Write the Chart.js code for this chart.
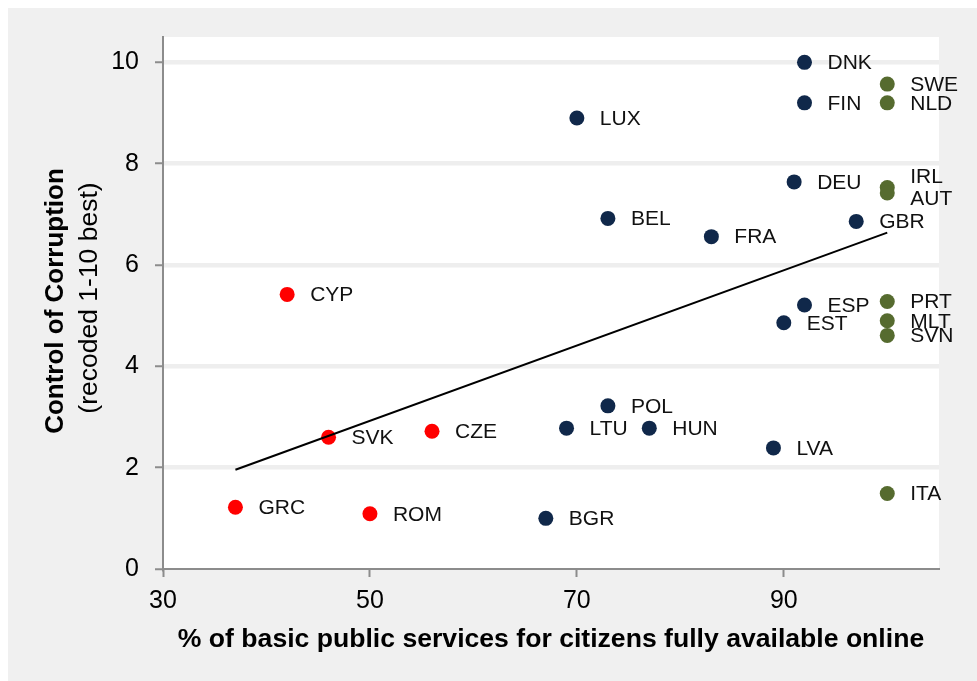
<!DOCTYPE html>
<html><head><meta charset="utf-8">
<script src="https://cdn.jsdelivr.net/npm/chart.js@4.4.1/dist/chart.umd.min.js"></script>
<style>html,body{margin:0;padding:0;background:#fff;} #wrap{width:977px;height:681px;position:relative;}</style>
</head><body><div id="wrap"><canvas id="c"></canvas></div>
<script>
// ---- data ----
const countries = ['DNK','SWE','FIN','NLD','LUX','DEU','IRL','AUT','BEL','GBR','FRA','CYP','ESP','PRT','EST','MLT','SVN','POL','SVK','CZE','LTU','HUN','LVA','ITA','GRC','ROM','BGR'];
const onlineServices = [92,100,92,100,70,91,100,100,73,97,83,42,92,100,90,100,100,73,46,56,69,77,89,100,37,50,67];
const corruptionControl = [10.0,9.57,9.2,9.2,8.9,7.64,7.53,7.42,6.92,6.86,6.56,5.42,5.21,5.28,4.86,4.9,4.61,3.22,2.6,2.72,2.78,2.78,2.39,1.49,1.22,1.09,1.0];
const groups = ['A','B','A','B','A','A','B','B','A','A','A','C','A','B','A','B','B','A','C','C','A','A','A','B','C','C','A'];
const trendX = [37, 100];
const trendY = [1.96, 6.64];
const xTicks = [30, 50, 70, 90];
const yTicks = [0, 2, 4, 6, 8, 10];
const xTitle = '% of basic public services for citizens fully available online';
const yTitleBold = 'Control of Corruption';
const yTitleNormal = '(recoded 1-10 best)';

// ---- styles ----
const groupColors = {A:'#10284a', B:'#566b2f', C:'#ff0000'};
const FONT = '"Liberation Sans", Arial, sans-serif';
const labelNudge = {IRL:[0,-11], AUT:[0,5]};

const datasets = ['A','B','C'].map(g => {
  const idx = countries.map((c,i)=>i).filter(i => groups[i] === g);
  return {
    type:'scatter',
    label:g,
    codes: idx.map(i => countries[i]),
    data: idx.map(i => ({x: onlineServices[i], y: corruptionControl[i]})),
    backgroundColor: groupColors[g],
    borderWidth: 0,
    pointRadius: 7.5,
    pointHoverRadius: 7.5,
    order: 1
  };
});
datasets.push({
  type:'line',
  label:'trend',
  data: trendX.map((x,i)=>({x, y: trendY[i]})),
  borderColor:'#000',
  borderWidth:2,
  pointRadius:0,
  fill:false,
  order:0
});

const bgPlugin = {
  id:'bg',
  beforeDraw(chart){
    const {ctx, chartArea:a} = chart;
    ctx.save();
    ctx.fillStyle = '#fff'; ctx.fillRect(0,0,chart.width,chart.height);
    ctx.fillStyle = '#f0f0f0'; ctx.fillRect(8,8,chart.width-8,chart.height-8);
    ctx.fillStyle = '#fff'; ctx.fillRect(a.left, a.top, a.right-a.left, a.bottom-a.top);
    ctx.restore();
  }
};
const labelPlugin = {
  id:'pointLabels',
  afterDatasetsDraw(chart){
    const ctx = chart.ctx; ctx.save();
    ctx.font = '21px ' + FONT; ctx.fillStyle = '#111';
    ctx.textBaseline = 'middle'; ctx.textAlign = 'left';
    chart.data.datasets.forEach((ds,i) => {
      if (!ds.codes) return;
      chart.getDatasetMeta(i).data.forEach((el,j) => {
        const code = ds.codes[j]; const n = labelNudge[code] || [0,0];
        ctx.fillText(code, el.x + 23 + n[0], el.y + 1 + n[1]);
      });
    });
    ctx.restore();
  }
};
const titlePlugin = {
  id:'titles',
  afterDraw(chart){
    const ctx = chart.ctx, a = chart.chartArea; ctx.save();
    ctx.fillStyle = '#000'; ctx.textAlign = 'center'; ctx.textBaseline = 'alphabetic';
    ctx.font = 'bold 26.6px ' + FONT;
    ctx.fillText(xTitle, (a.left + a.right)/2, 647);
    const cy = (a.top + a.bottom)/2 - 2;
    ctx.font = 'bold 26px ' + FONT;
    ctx.save(); ctx.translate(63, cy); ctx.rotate(-Math.PI/2);
    ctx.fillText(yTitleBold, 0, 0); ctx.restore();
    ctx.save(); ctx.translate(97, cy - 3); ctx.rotate(-Math.PI/2);
    ctx.font = '26.5px ' + FONT; ctx.fillText(yTitleNormal, 0, 0); ctx.restore();
    ctx.restore();
  }
};

new Chart(document.getElementById('c'), {
  data: {datasets},
  options: {
    responsive:true, maintainAspectRatio:false, devicePixelRatio:1, animation:false,
    layout:{padding:{top:37, right:38, left:0, bottom:0}},
    plugins:{legend:{display:false}, tooltip:{enabled:false}},
    scales:{
      x:{
        type:'linear', min:30, max:105,
        afterFit(s){ s.height = 112; },
        afterBuildTicks(s){ s.ticks = xTicks.map(v=>({value:v})); },
        ticks:{font:{family:FONT, size:25}, color:'#000', padding:9, maxRotation:0},
        grid:{drawOnChartArea:false, drawTicks:true, tickLength:8, tickColor:'#8c8c8c', tickWidth:2},
        border:{color:'#8c8c8c', width:2}
      },
      y:{
        type:'linear', min:0, max:10.5,
        afterFit(s){ s.width = 163; },
        afterBuildTicks(s){ s.ticks = yTicks.map(v=>({value:v})); },
        ticks:{font:{family:FONT, size:25}, color:'#000', padding:16},
        grid:{color:(c)=> (c.tick && c.tick.value === 0) ? 'rgba(0,0,0,0)' : '#eeeeee', lineWidth:4.5, drawTicks:true, tickLength:8, tickColor:'#8c8c8c', tickWidth:2},
        border:{color:'#8c8c8c', width:2}
      }
    }
  },
  plugins:[bgPlugin, labelPlugin, titlePlugin]
});
</script>
</body></html>
